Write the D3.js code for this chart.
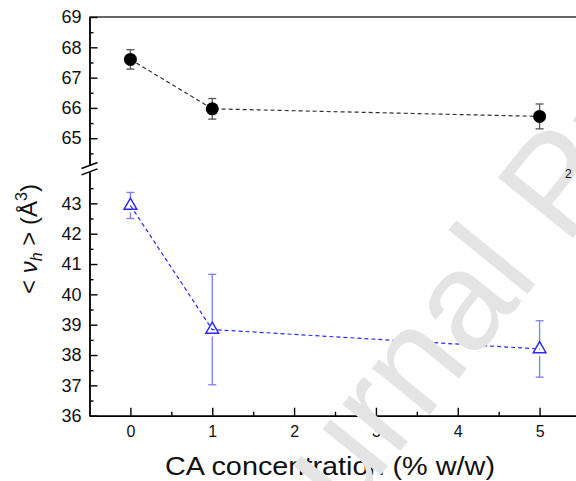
<!DOCTYPE html>
<html>
<head>
<meta charset="utf-8">
<script src="https://cdn.jsdelivr.net/npm/d3@7"></script>
<style>
  body { margin: 0; background: #fff; }
  svg { display: block; }
</style>
</head>
<body>
<div class="chart"></div>
<script>
// Parameters
const width = 576;
const height = 481;

// Data
const conc = [0, 1, 5];                    // CA concentration (% w/w)
const vTop = [67.6, 65.97, 65.72];          // black circles
const vTopErr = [0.32, 0.34, 0.41];
const vBot = [42.93, 38.84, 38.2];          // blue triangles
const vBotErr = [0.43, 1.82, 0.93];

const xTicks = [0, 1, 2, 3, 4, 5];
const xMinor = [0.5, 1.5, 2.5, 3.5, 4.5, 5.5];
const yTopTicks = [65, 66, 67, 68, 69];
const yTopMinor = [64.5, 65.5, 66.5, 67.5, 68.5];
const yBotTicks = [36, 37, 38, 39, 40, 41, 42, 43];
const yBotMinor = [36.5, 37.5, 38.5, 39.5, 40.5, 41.5, 42.5, 43.5];

const blue = '#2a2aff';
const font = '"Liberation Sans", Arial, sans-serif';

const svg = d3.select('.chart')
    .append('svg')
    .attr('width', width)
    .attr('height', height);

// scales (broken y axis = two scales)
const x = d3.scaleLinear().domain([-0.5, 5.5]).range([89.5, 580.5]);
const yTop = d3.scaleLinear().domain([64.1, 69]).range([165.5, 17]);
const yBot = d3.scaleLinear().domain([36, 44.04]).range([415.7, 171.8]);

function styleAxis(g, size) {
    g.selectAll('path, line').attr('stroke', '#000').attr('stroke-width', 1.4);
    g.selectAll('text').attr('fill', '#111').style('font', `${size}px ${font}`);
}

// top frame line
svg.append('line')
    .attr('x1', x(-0.5)).attr('x2', x(5.5))
    .attr('y1', yTop(69)).attr('y2', yTop(69))
    .attr('stroke', '#333').attr('stroke-width', 1.4);

// x axis
svg.append('g')
    .attr('transform', `translate(0, ${yBot(36)})`)
    .call(d3.axisBottom(x).tickValues(xTicks).tickFormat(d3.format('d'))
        .tickSizeInner(-8).tickSizeOuter(0).tickPadding(10))
    .call(g => styleAxis(g, 16));
svg.append('g')
    .attr('transform', `translate(0, ${yBot(36)})`)
    .call(d3.axisBottom(x).tickValues(xMinor).tickFormat('')
        .tickSizeInner(-4).tickSizeOuter(0))
    .call(g => styleAxis(g, 16));

// y axes, upper and lower part
[[yTop, yTopTicks, yTopMinor], [yBot, yBotTicks, yBotMinor]].forEach(([s, major, minor]) => {
    svg.append('g')
        .attr('transform', `translate(${x(-0.5)}, 0)`)
        .call(d3.axisLeft(s).tickValues(major).tickFormat(d3.format('d'))
            .tickSizeInner(-8).tickSizeOuter(0).tickPadding(8))
        .call(g => styleAxis(g, 18));
    svg.append('g')
        .attr('transform', `translate(${x(-0.5)}, 0)`)
        .call(d3.axisLeft(s).tickValues(minor).tickFormat('')
            .tickSizeInner(-4).tickSizeOuter(0))
        .call(g => styleAxis(g, 18));
});

// break marks
const bx = x(-0.5);
[yTop.range()[0], yBot.range()[1]].forEach(by => {
    svg.append('line')
        .attr('x1', bx - 8).attr('y1', by + 3)
        .attr('x2', bx + 8).attr('y2', by - 3)
        .attr('stroke', '#000').attr('stroke-width', 1.4);
});

// series drawing
function drawSeries(vals, errs, s, color, errColor, marker) {
    const g = svg.append('g');
    g.append('path')
        .datum(conc.map((c, i) => [c, vals[i]]))
        .attr('d', d3.line().x(d => x(d[0])).y(d => s(d[1])))
        .attr('fill', 'none')
        .attr('stroke', color)
        .attr('stroke-width', 1.2)
        .attr('stroke-dasharray', '4,3');

    const gap = marker === 'circle' ? 0 : 7;
    conc.forEach((c, i) => {
        const cx = x(c), top = s(vals[i] + errs[i]), bot = s(vals[i] - errs[i]), cy = s(vals[i]);
        const eg = g.append('g').attr('stroke', errColor).attr('stroke-width', 1.3);
        eg.append('line').attr('x1', cx).attr('x2', cx).attr('y1', top).attr('y2', Math.min(bot, cy - gap));
        eg.append('line').attr('x1', cx).attr('x2', cx).attr('y1', Math.max(top, cy + gap)).attr('y2', bot);
        eg.append('line').attr('x1', cx - 4).attr('x2', cx + 4).attr('y1', top).attr('y2', top);
        eg.append('line').attr('x1', cx - 4).attr('x2', cx + 4).attr('y1', bot).attr('y2', bot);
    });

    if (marker === 'circle') {
        g.selectAll('circle')
            .data(conc)
            .join('circle')
            .attr('cx', d => x(d))
            .attr('cy', (d, i) => s(vals[i]))
            .attr('r', 6.5)
            .attr('fill', '#000');
    } else {
        g.selectAll('.tri')
            .data(conc)
            .join('path')
            .attr('class', 'tri')
            .attr('transform', (d, i) => `translate(${x(d)}, ${s(vals[i])})`)
            .attr('d', d3.symbol(d3.symbolTriangle, 70))
            .attr('fill', 'none')
            .attr('stroke', color)
            .attr('stroke-width', 1.5);
    }
}

drawSeries(vTop, vTopErr, yTop, '#333', '#555', 'circle');
drawSeries(vBot, vBotErr, yBot, blue, '#7c7cff', 'triangle');

// axis titles
svg.append('text')
    .attr('x', 330).attr('y', 475)
    .attr('text-anchor', 'middle')
    .attr('textLength', 330)
    .attr('lengthAdjust', 'spacingAndGlyphs')
    .style('font', `26px ${font}`)
    .attr('fill', '#111')
    .text('CA concentration (% w/w)');

const yl = svg.append('text')
    .attr('transform', 'translate(37, 239) rotate(-90)')
    .attr('text-anchor', 'middle')
    .style('font', `24px ${font}`)
    .attr('fill', '#111');
yl.append('tspan').text('< ');
yl.append('tspan').style('font-style', 'italic').text('ν');
yl.append('tspan').style('font-style', 'italic').style('font-size', '16px').attr('dy', 5).text('h');
yl.append('tspan').attr('dy', -5).text(' > (Å');
yl.append('tspan').style('font-size', '16px').attr('dy', -10).text('3');
yl.append('tspan').attr('dy', 10).text(')');

// "Journal Pre-proof" watermark, over the plot
svg.append('text')
    .attr('transform', 'translate(252, 634) rotate(-51)')
    .style('font', '140px "Liberation Sans", Arial, sans-serif')
    .attr('fill', '#e4e4e4')
    .text('Journal Pre-proof');

// stray glyph at the right edge (sits above the watermark)
svg.append('text')
    .attr('x', 565).attr('y', 178)
    .style('font', `12px ${font}`)
    .attr('fill', '#111')
    .text('2');
</script>
</body>
</html>
